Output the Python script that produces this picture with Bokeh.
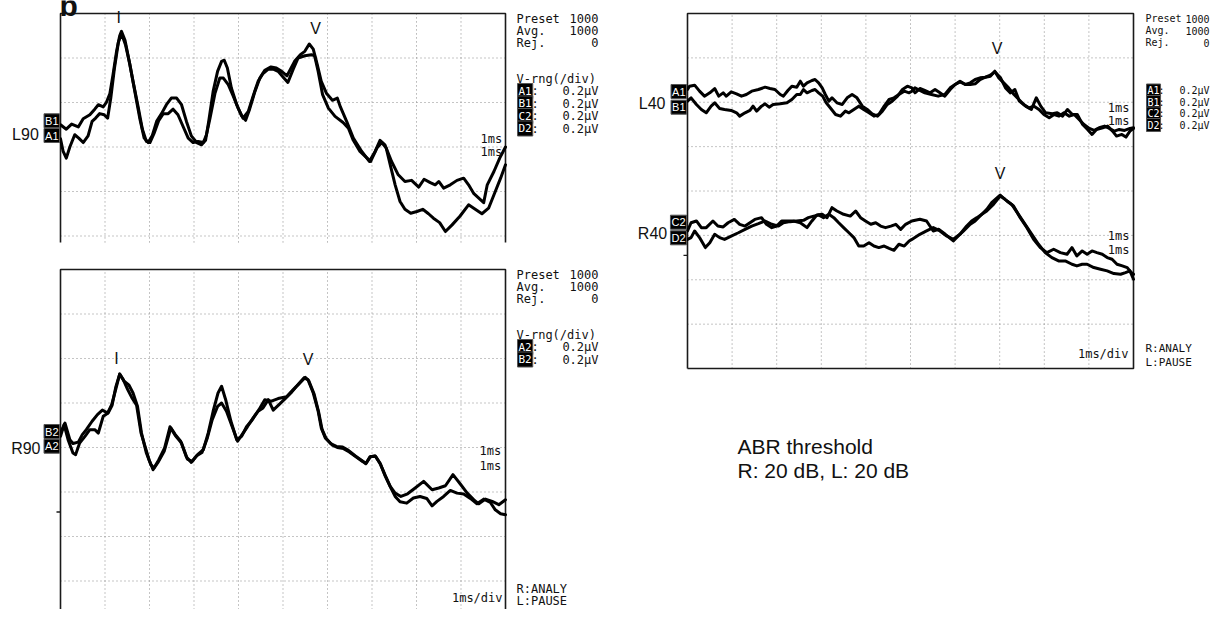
from bokeh.plotting import figure
from bokeh.models import Range1d, Label
from bokeh.layouts import row, column
from bokeh.embed import file_html
from bokeh.resources import INLINE

# ---------------- data ----------------
ms_grid = [1, 2, 3, 4, 5, 6, 7, 8, 9]            # 1 ms / div
uv_grid = [0.6, 0.4, 0.2, 0.0, -0.2, -0.4, -0.6]  # 0.2 uV / div
time_span = [0, 10]                               # ms
amp_span = [-0.8, 0.8]                            # uV (8 div)
baseline_marker = [-0.29]
L90_visible_floor = -0.229                        # top-left screen is cropped here

# L90 (top-left), two replicates
L90_A_t = [0.00, 0.06, 0.13, 0.21, 0.32, 0.41, 0.51, 0.62, 0.71, 0.79, 0.88, 0.98, 1.06, 1.13, 1.21, 1.30, 1.37,
           1.46, 1.56, 1.67, 1.78, 1.88, 1.97, 2.06, 2.16, 2.27, 2.38, 2.49, 2.61, 2.72, 2.83, 2.94, 3.06, 3.17,
           3.26, 3.33, 3.43, 3.53, 3.62, 3.68, 3.75, 3.84, 3.96, 4.07, 4.16, 4.25, 4.37, 4.48, 4.59, 4.73, 4.85,
           4.97, 5.09, 5.26, 5.39, 5.49, 5.59, 5.68, 5.77, 5.86, 5.98, 6.11, 6.22, 6.29, 6.43, 6.58, 6.77, 6.94,
           7.07, 7.18, 7.29, 7.44, 7.59, 7.74, 7.89, 8.05, 8.17, 8.31, 8.42, 8.50, 8.61, 8.76, 8.91, 9.06, 9.17,
           9.29, 9.40, 9.51, 9.59, 9.74, 9.87, 10.0]
L90_A_v = [0.237, 0.18, 0.15, 0.20, 0.255, 0.24, 0.22, 0.25, 0.315, 0.33, 0.35, 0.345, 0.33, 0.42, 0.55, 0.67, 0.71,
           0.66, 0.57, 0.45, 0.33, 0.24, 0.22, 0.25, 0.315, 0.35, 0.39, 0.42, 0.42, 0.39, 0.315, 0.25, 0.22, 0.21,
           0.23, 0.315, 0.45, 0.54, 0.585, 0.59, 0.555, 0.465, 0.39, 0.34, 0.32, 0.37, 0.45, 0.51, 0.545, 0.56, 0.555,
           0.54, 0.52, 0.585, 0.615, 0.63, 0.663, 0.64, 0.57, 0.495, 0.44, 0.41, 0.42, 0.38, 0.315, 0.24, 0.18, 0.135,
           0.18, 0.23, 0.21, 0.135, 0.075, 0.045, 0.05, 0.02, 0.055, 0.04, 0.03, 0.045, 0.015, 0.03, 0.05, 0.06, 0.03,
           -0.01, -0.03, -0.05, 0.03, 0.09, 0.15, 0.20]
L90_B_t = [0.00, 0.13, 0.25, 0.40, 0.51, 0.66, 0.77, 0.85, 0.96, 1.03, 1.11, 1.18, 1.26, 1.33, 1.37, 1.45, 1.54,
           1.63, 1.75, 1.84, 1.93, 2.01, 2.10, 2.21, 2.31, 2.42, 2.53, 2.64, 2.76, 2.87, 2.98, 3.09, 3.21, 3.28,
           3.36, 3.47, 3.58, 3.66, 3.77, 3.88, 3.99, 4.10, 4.22, 4.33, 4.44, 4.55, 4.67, 4.78, 4.89, 5.02, 5.11,
           5.23, 5.34, 5.49, 5.64, 5.71, 5.79, 5.89, 6.02, 6.17, 6.35, 6.47, 6.58, 6.73, 6.89, 6.97, 7.11, 7.22,
           7.32, 7.41, 7.52, 7.63, 7.74, 7.87, 8.01, 8.14, 8.27, 8.38, 8.52, 8.65, 8.80, 8.98, 9.17, 9.32, 9.47,
           9.62, 9.75, 9.89, 10.0]
L90_B_v = [0.30, 0.28, 0.303, 0.29, 0.327, 0.345, 0.37, 0.39, 0.38, 0.40, 0.44, 0.525, 0.63, 0.70, 0.72, 0.68, 0.59,
           0.495, 0.375, 0.28, 0.225, 0.22, 0.26, 0.32, 0.35, 0.35, 0.37, 0.345, 0.29, 0.24, 0.22, 0.225, 0.22, 0.255,
           0.33, 0.44, 0.51, 0.51, 0.48, 0.43, 0.375, 0.33, 0.36, 0.43, 0.495, 0.53, 0.55, 0.55, 0.54, 0.51, 0.49,
           0.55, 0.60, 0.61, 0.615, 0.61, 0.54, 0.435, 0.375, 0.3375, 0.31, 0.285, 0.23, 0.18, 0.15, 0.135, 0.195, 0.22,
           0.195, 0.12, 0.03, -0.045, -0.08, -0.0975, -0.09, -0.08, -0.10, -0.12, -0.14, -0.18, -0.15, -0.11, -0.06,
           -0.08, -0.10, -0.075, -0.01, 0.06, 0.12]

# R90 (bottom-left), two replicates
R90_A_t = [0.00, 0.08, 0.17, 0.28, 0.34, 0.43, 0.55, 0.66, 0.77, 0.85, 0.96, 1.07, 1.16, 1.24, 1.33, 1.41, 1.51,
           1.60, 1.71, 1.81, 1.90, 1.99, 2.08, 2.19, 2.33, 2.48, 2.58, 2.70, 2.83, 2.94, 3.06, 3.18, 3.30, 3.41,
           3.53, 3.62, 3.73, 3.84, 3.98, 4.08, 4.20, 4.33, 4.46, 4.59, 4.74, 4.89, 5.08, 5.23, 5.34, 5.47, 5.56,
           5.68, 5.79, 5.86, 5.95, 6.07, 6.20, 6.34, 6.47, 6.62, 6.77, 6.86, 6.95, 7.07, 7.18, 7.29, 7.41, 7.52,
           7.65, 7.80, 7.97, 8.16, 8.35, 8.50, 8.65, 8.82, 8.98, 9.14, 9.29, 9.40, 9.55, 9.70, 9.85, 10.0]
R90_A_v = [0.05, 0.103, 0.035, -0.025, -0.032, 0.02, 0.05, 0.08, 0.08, 0.065, 0.14, 0.155, 0.19, 0.27, 0.33, 0.305,
           0.26, 0.225, 0.19, 0.065, 0.005, -0.055, -0.10, -0.067, -0.017, 0.088, 0.058, 0.028, -0.043, -0.067, -0.037,
           -0.022, 0.043, 0.125, 0.185, 0.20, 0.163, 0.103, 0.028, 0.058, 0.093, 0.133, 0.17, 0.215, 0.208, 0.22,
           0.228, 0.26, 0.283, 0.313, 0.305, 0.245, 0.163, 0.088, 0.043, 0.018, 0.005, 0.002, -0.013, -0.037, -0.058,
           -0.073, -0.043, -0.037, -0.07, -0.122, -0.175, -0.205, -0.22, -0.208, -0.182, -0.152, -0.19, -0.182, -0.172,
           -0.122, -0.163, -0.205, -0.235, -0.253, -0.232, -0.242, -0.257, -0.235]
R90_B_t = [0.00, 0.10, 0.21, 0.28, 0.40, 0.49, 0.58, 0.71, 0.83, 0.94, 1.06, 1.15, 1.24, 1.33, 1.43, 1.54, 1.63,
           1.73, 1.82, 1.93, 2.03, 2.10, 2.21, 2.34, 2.46, 2.58, 2.72, 2.85, 2.96, 3.08, 3.21, 3.32, 3.43, 3.54,
           3.62, 3.71, 3.83, 3.96, 4.07, 4.18, 4.31, 4.44, 4.55, 4.67, 4.78, 4.91, 5.05, 5.20, 5.32, 5.45, 5.50,
           5.58, 5.70, 5.80, 5.88, 5.97, 6.10, 6.22, 6.36, 6.49, 6.64, 6.78, 6.87, 6.97, 7.08, 7.19, 7.30, 7.42,
           7.52, 7.63, 7.78, 7.93, 8.08, 8.23, 8.35, 8.46, 8.61, 8.76, 8.91, 9.06, 9.21, 9.36, 9.51, 9.66, 9.77,
           9.89, 10.0]
R90_B_v = [0.065, 0.11, 0.035, 0.018, 0.024, 0.058, 0.08, 0.118, 0.148, 0.168, 0.155, 0.193, 0.26, 0.33, 0.298, 0.28,
           0.245, 0.185, 0.065, -0.025, -0.077, -0.092, -0.055, -0.002, 0.093, 0.054, 0.02, -0.052, -0.062, -0.032,
           -0.01, 0.066, 0.163, 0.245, 0.275, 0.216, 0.118, 0.035, 0.05, 0.093, 0.125, 0.163, 0.178, 0.215, 0.168,
           0.193, 0.22, 0.25, 0.278, 0.305, 0.315, 0.30, 0.24, 0.16, 0.08, 0.04, 0.012, 0.0, -0.005, -0.02, -0.042,
           -0.062, -0.07, -0.04, -0.04, -0.075, -0.13, -0.18, -0.22, -0.244, -0.25, -0.227, -0.22, -0.229, -0.262,
           -0.242, -0.22, -0.193, -0.205, -0.209, -0.229, -0.253, -0.232, -0.247, -0.28, -0.298, -0.302]

# L40 (right screen, upper pair)
L40_A_t = [0.00, 0.045, 0.16, 0.27, 0.38, 0.50, 0.61, 0.70, 0.80, 0.87, 0.98, 1.10, 1.21, 1.32, 1.44, 1.59, 1.74,
           1.85, 1.96, 2.08, 2.15, 2.25, 2.34, 2.45, 2.53, 2.60, 2.68, 2.79, 2.86, 2.94, 3.02, 3.09, 3.17, 3.24,
           3.35, 3.47, 3.58, 3.69, 3.80, 3.92, 4.03, 4.14, 4.26, 4.37, 4.48, 4.59, 4.71, 4.82, 4.93, 5.03, 5.10,
           5.21, 5.32, 5.44, 5.55, 5.66, 5.77, 5.89, 6.00, 6.11, 6.23, 6.34, 6.45, 6.56, 6.68, 6.79, 6.89, 6.98,
           7.09, 7.20, 7.32, 7.43, 7.54, 7.65, 7.77, 7.88, 7.99, 8.11, 8.22, 8.33, 8.44, 8.56, 8.67, 8.78, 8.89,
           9.01, 9.12, 9.23, 9.35, 9.46, 9.57, 9.68, 9.80, 9.92, 10.0]
L40_A_v = [0.4575, 0.4725, 0.477, 0.45, 0.4275, 0.4425, 0.462, 0.4275, 0.4425, 0.4275, 0.447, 0.438, 0.4275, 0.435,
           0.45, 0.4575, 0.468, 0.462, 0.4575, 0.435, 0.4275, 0.453, 0.4725, 0.468, 0.495, 0.4725, 0.4875, 0.498,
           0.5025, 0.4875, 0.465, 0.435, 0.405, 0.42, 0.3975, 0.39, 0.42, 0.435, 0.42, 0.3825, 0.3675, 0.348, 0.3375,
           0.36, 0.39, 0.405, 0.4275, 0.4575, 0.4725, 0.465, 0.4425, 0.462, 0.453, 0.4425, 0.4575, 0.4425, 0.4275,
           0.4575, 0.48, 0.495, 0.48, 0.4875, 0.5025, 0.51, 0.513, 0.5175, 0.54, 0.51, 0.4875, 0.465, 0.435, 0.4125,
           0.39, 0.375, 0.3825, 0.3675, 0.345, 0.33, 0.345, 0.3375, 0.3525, 0.3375, 0.345, 0.3225, 0.30, 0.282, 0.273,
           0.285, 0.2925, 0.282, 0.27, 0.2775, 0.273, 0.282, 0.285]
L40_B_t = [0.00, 0.08, 0.20, 0.31, 0.42, 0.53, 0.61, 0.72, 0.83, 0.98, 1.10, 1.17, 1.29, 1.40, 1.47, 1.55, 1.66,
           1.74, 1.83, 1.92, 2.08, 2.23, 2.34, 2.45, 2.53, 2.60, 2.68, 2.79, 2.86, 2.94, 3.03, 3.11, 3.20, 3.32,
           3.43, 3.54, 3.62, 3.73, 3.84, 3.95, 4.07, 4.18, 4.29, 4.41, 4.52, 4.63, 4.74, 4.86, 4.97, 5.03, 5.10,
           5.21, 5.32, 5.47, 5.62, 5.77, 5.89, 6.00, 6.11, 6.23, 6.34, 6.45, 6.56, 6.68, 6.79, 6.89, 7.02, 7.13,
           7.24, 7.34, 7.44, 7.58, 7.71, 7.82, 7.92, 8.03, 8.18, 8.29, 8.41, 8.52, 8.63, 8.74, 8.86, 8.97, 9.07,
           9.17, 9.31, 9.42, 9.53, 9.62, 9.74, 9.83, 9.92, 10.0]
L40_B_v = [0.405, 0.42, 0.39, 0.3675, 0.3525, 0.3825, 0.3975, 0.372, 0.3675, 0.363, 0.3525, 0.3375, 0.3525, 0.363,
           0.3825, 0.36, 0.3825, 0.393, 0.378, 0.39, 0.393, 0.3975, 0.4125, 0.435, 0.435, 0.4575, 0.4425, 0.453, 0.4575,
           0.4425, 0.4275, 0.3975, 0.375, 0.345, 0.3375, 0.36, 0.3525, 0.3675, 0.3825, 0.3675, 0.3525, 0.3375, 0.345,
           0.3825, 0.4125, 0.42, 0.435, 0.45, 0.4425, 0.45, 0.465, 0.453, 0.4425, 0.435, 0.4275, 0.435, 0.465, 0.48,
           0.492, 0.48, 0.48, 0.483, 0.5025, 0.513, 0.522, 0.537, 0.51, 0.465, 0.4425, 0.4575, 0.405, 0.3825, 0.3675,
           0.42, 0.3825, 0.3525, 0.348, 0.3525, 0.3375, 0.3675, 0.345, 0.345, 0.30, 0.2775, 0.255, 0.2775, 0.285,
           0.2925, 0.27, 0.2475, 0.255, 0.243, 0.27, 0.282]

# R40 (right screen, lower pair)
R40_C_t = [0.00, 0.08, 0.20, 0.31, 0.42, 0.57, 0.68, 0.80, 0.91, 1.05, 1.17, 1.29, 1.40, 1.51, 1.66, 1.77, 1.89,
           2.00, 2.11, 2.23, 2.38, 2.53, 2.68, 2.79, 2.90, 3.02, 3.13, 3.24, 3.35, 3.50, 3.65, 3.77, 3.88, 3.99,
           4.11, 4.22, 4.33, 4.44, 4.56, 4.67, 4.78, 4.89, 5.03, 5.21, 5.36, 5.51, 5.63, 5.78, 5.96, 6.07, 6.19,
           6.34, 6.45, 6.56, 6.71, 6.82, 7.01, 7.16, 7.31, 7.46, 7.61, 7.76, 7.91, 8.06, 8.21, 8.36, 8.51, 8.62,
           8.73, 8.85, 8.96, 9.07, 9.18, 9.30, 9.41, 9.52, 9.63, 9.75, 9.86, 9.95, 10.0]
R40_C_v = [-0.18, -0.143, -0.135, -0.165, -0.165, -0.135, -0.158, -0.162, -0.143, -0.128, -0.15, -0.158, -0.143,
           -0.128, -0.12, -0.15, -0.165, -0.158, -0.135, -0.135, -0.135, -0.143, -0.165, -0.135, -0.108, -0.105, -0.12,
           -0.075, -0.09, -0.105, -0.113, -0.09, -0.12, -0.135, -0.15, -0.143, -0.158, -0.165, -0.158, -0.15, -0.173,
           -0.15, -0.135, -0.1275, -0.135, -0.18, -0.1725, -0.195, -0.225, -0.2025, -0.18, -0.15, -0.135, -0.1125,
           -0.0825, -0.0525, -0.018, -0.045, -0.0675, -0.12, -0.165, -0.2175, -0.255, -0.2775, -0.2625, -0.2775, -0.285,
           -0.255, -0.2925, -0.27, -0.285, -0.27, -0.2775, -0.285, -0.30, -0.3075, -0.33, -0.3375, -0.345, -0.3675,
           -0.375]
R40_D_t = [0.00, 0.08, 0.16, 0.27, 0.40, 0.50, 0.61, 0.72, 0.83, 0.98, 1.14, 1.29, 1.44, 1.59, 1.74, 1.89, 2.04,
           2.15, 2.30, 2.45, 2.60, 2.71, 2.83, 2.94, 3.05, 3.17, 3.28, 3.39, 3.50, 3.62, 3.73, 3.84, 3.95, 4.07,
           4.18, 4.29, 4.41, 4.52, 4.63, 4.74, 4.86, 4.97, 5.03, 5.21, 5.36, 5.51, 5.66, 5.81, 5.96, 6.11, 6.26,
           6.37, 6.49, 6.60, 6.71, 6.86, 7.01, 7.12, 7.27, 7.42, 7.57, 7.72, 7.87, 8.02, 8.17, 8.32, 8.47, 8.62,
           8.73, 8.85, 8.96, 9.11, 9.26, 9.41, 9.56, 9.71, 9.82, 9.92, 10.0]
R40_D_v = [-0.218, -0.21, -0.18, -0.21, -0.255, -0.233, -0.195, -0.21, -0.218, -0.203, -0.188, -0.173, -0.158,
           -0.147, -0.135, -0.15, -0.158, -0.143, -0.138, -0.135, -0.132, -0.12, -0.113, -0.108, -0.12, -0.105, -0.12,
           -0.143, -0.165, -0.188, -0.21, -0.248, -0.248, -0.233, -0.248, -0.255, -0.248, -0.258, -0.267, -0.24,
           -0.248, -0.225, -0.218, -0.195, -0.18, -0.165, -0.18, -0.2025, -0.2175, -0.195, -0.1575, -0.135, -0.12,
           -0.105, -0.09, -0.06, -0.0225, -0.0375, -0.06, -0.105, -0.15, -0.195, -0.24, -0.2775, -0.30, -0.315, -0.315,
           -0.33, -0.3375, -0.33, -0.33, -0.345, -0.3525, -0.36, -0.372, -0.375, -0.3675, -0.36, -0.3975]

# ---------------- styling ----------------
INK = "#111111"
FRAME = "#1a1a1a"
GRID = "#8a8a8a"
MONO = "DejaVu Sans Mono"
SANS = "Liberation Sans"
TICK_MS = 0.09


def make_panel(width, height, box_left, box_top, ppm, ppu, floor, closed=False):
    """A figure whose whole canvas is data space; the oscilloscope screen sits
    box_left / box_top pixels into it (ppm px per ms, ppu px per uV)."""
    t0, t1 = time_span
    vtop = amp_span[1]
    p = figure(width=width, height=height, output_backend="svg", toolbar_location=None,
               x_range=Range1d(t0 - box_left / ppm, t0 + (width - box_left) / ppm),
               y_range=Range1d(vtop - (height - box_top) / ppu, vtop + box_top / ppu),
               x_axis_type=None, y_axis_type=None,
               min_border_left=0, min_border_right=0, min_border_top=0, min_border_bottom=0)
    p.outline_line_color = None
    p.background_fill_color = "white"
    p.border_fill_color = "white"
    p.xgrid.visible = False
    p.ygrid.visible = False
    # dotted graticule
    p.segment(x0=ms_grid, y0=[floor] * len(ms_grid), x1=ms_grid, y1=[vtop] * len(ms_grid),
              line_color=GRID, line_width=1, line_dash="1 3")
    hv = [v for v in uv_grid if v > floor]
    p.segment(x0=[t0] * len(hv), y0=hv, x1=[t1] * len(hv), y1=hv,
              line_color=GRID, line_width=1, line_dash="1 3")
    # screen border
    if closed:
        p.line([t0, t0, t1, t1, t0], [floor, vtop, vtop, floor, floor], line_color=FRAME, line_width=1.6)
    else:
        p.line([t0, t0, t1, t1], [floor, vtop, vtop, floor], line_color=FRAME, line_width=1.6)
    # baseline marker tick on the left edge
    bm = [b for b in baseline_marker if b > floor]
    if bm:
        p.segment(x0=[t0 - TICK_MS] * len(bm), y0=bm, x1=[t0] * len(bm), y1=bm,
                  line_color=FRAME, line_width=1.4)
    return p


def put(p, geom, dx, dy, text, **kw):
    ppm, ppu = geom
    kw.setdefault("text_baseline", "middle")
    p.add_layout(Label(x=time_span[0] + dx / ppm, y=amp_span[1] - dy / ppu, text=text, **kw))


def mono(p, geom, dx, dy, text, align="left", size="12px"):
    put(p, geom, dx, dy, text, text_font=MONO, text_font_size=size, text_color=INK, text_align=align)


def box(p, geom, dx, dy, text, align="left", size="11px", font=MONO):
    put(p, geom, dx, dy, text, text_font=font, text_font_size=size, text_color="white",
        text_align=align, background_fill_color="black", border_line_color="#555555", padding=1)


def sans(p, geom, dx, dy, text, align="left", size="16px", style="normal", baseline="middle"):
    put(p, geom, dx, dy, text, text_font=SANS, text_font_size=size, text_color=INK, text_align=align,
        text_font_style=style, text_baseline=baseline)


def traces(p, pairs):
    for t, v in pairs:
        p.line(t, v, line_color="black", line_width=3, line_join="round", line_cap="round")


def info_block(p, geom, xl, xr, rows_y, boxes, vrng_y=None, size="12px", colon_dx=15, box_size="11px"):
    mono(p, geom, xl, rows_y[0], "Preset", size=size)
    mono(p, geom, xr, rows_y[0], "1000", "right", size=size)
    mono(p, geom, xl, rows_y[1], "Avg.", size=size)
    mono(p, geom, xr, rows_y[1], "1000", "right", size=size)
    mono(p, geom, xl, rows_y[2], "Rej.", size=size)
    mono(p, geom, xr, rows_y[2], "0", "right", size=size)
    if vrng_y is not None:
        mono(p, geom, xl, vrng_y, "V-rng(/div)", size=size)
    for name, y in boxes:
        box(p, geom, xl + 1, y, name, size=box_size)
        mono(p, geom, xl + colon_dx, y, ":", size=size)
        mono(p, geom, xr, y, "0.2\u00b5V", "right", size=size)


G12 = (44.5, 222.5)   # px per ms, px per uV (left screens)
G3 = (44.6, 221.9)    # right screen

# ---- top-left: L90 ----
p1 = make_panel(620, 256, 60, 13, *G12, floor=L90_visible_floor)
traces(p1, [(L90_A_t, L90_A_v), (L90_B_t, L90_B_v)])
sans(p1, G12, -1, -8, "b", "left", "30px", "bold", "alphabetic")
sans(p1, G12, -21.7, 121, "L90", "right")
box(p1, G12, -1, 107.3, "B1", "right", "11px", SANS)
box(p1, G12, -1, 122, "A1", "right", "11px", SANS)
sans(p1, G12, 58.3, 4, "I", "center")
sans(p1, G12, 255, 14.5, "V", "center")
mono(p1, G12, 441.7, 125.3, "1ms", "right")
mono(p1, G12, 441.7, 138.7, "1ms", "right")
info_block(p1, G12, 456, 538, [5, 17, 29], [("A1", 77.5), ("B1", 90), ("C2", 102.5), ("D2", 115)], vrng_y=65)

# ---- bottom-left: R90 ----
p2 = make_panel(620, 353, 60, 13, *G12, floor=amp_span[0])
traces(p2, [(R90_A_t, R90_A_v), (R90_B_t, R90_B_v)])
sans(p2, G12, -20, 179.3, "R90", "right")
box(p2, G12, -1, 162, "B2", "right", "11px", SANS)
box(p2, G12, -1, 176.7, "A2", "right", "11px", SANS)
sans(p2, G12, 56, 88.5, "I", "center")
sans(p2, G12, 247.7, 90, "V", "center")
mono(p2, G12, 440.7, 181, "1ms", "right")
mono(p2, G12, 440.7, 196, "1ms", "right")
mono(p2, G12, 442, 328, "1ms/div", "right")
info_block(p2, G12, 456, 538, [5, 17, 29], [("A2", 77.5), ("B2", 90)], vrng_y=65)
mono(p2, G12, 456, 319, "R:ANALY")
mono(p2, G12, 456, 331, "L:PAUSE")

# ---- right: L40 / R40 ----
p3 = make_panel(591, 609, 67, 13, *G3, floor=amp_span[0], closed=True)
traces(p3, [(L40_A_t, L40_A_v), (L40_B_t, L40_B_v), (R40_C_t, R40_C_v), (R40_D_t, R40_D_v)])
sans(p3, G3, -22, 90.3, "L40", "right")
box(p3, G3, -1, 78, "A1", "right", "11px", SANS)
box(p3, G3, -1, 93.7, "B1", "right", "11px", SANS)
sans(p3, G3, -20.3, 220.3, "R40", "right")
box(p3, G3, -1, 208.7, "C2", "right", "11px", SANS)
box(p3, G3, -1, 224.3, "D2", "right", "11px", SANS)
sans(p3, G3, 309.7, 34.5, "V", "center")
sans(p3, G3, 312.5, 159.5, "V", "center")
mono(p3, G3, 442, 94.3, "1ms", "right")
mono(p3, G3, 442, 107.7, "1ms", "right")
mono(p3, G3, 442, 222, "1ms", "right")
mono(p3, G3, 442, 236.3, "1ms", "right")
mono(p3, G3, 441, 340, "1ms/div", "right")
info_block(p3, G3, 458, 522, [5, 17, 29], [("A1", 77), ("B1", 88.5), ("C2", 100), ("D2", 111.5)],
           size="10px", colon_dx=13, box_size="10px")
mono(p3, G3, 458, 335, "R:ANALY", size="11px")
mono(p3, G3, 458, 349, "L:PAUSE", size="11px")
sans(p3, G3, 50, 433, "ABR threshold", "left", "21px")
sans(p3, G3, 50, 457, "R: 20 dB, L: 20 dB", "left", "21px")

layout = row(column(p1, p2), p3)
open("out.html", "w").write(file_html(layout, INLINE))
